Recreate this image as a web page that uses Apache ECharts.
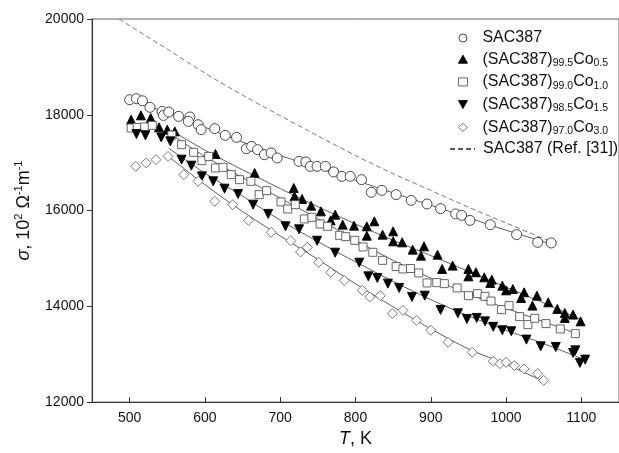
<!DOCTYPE html>
<html>
<head>
<meta charset="utf-8">
<script src="https://cdn.jsdelivr.net/npm/echarts@6/dist/echarts.min.js"></script>
<style>
  html, body { margin: 0; padding: 0; background: #fff; }
  #chart { width: 619px; height: 453px; }
</style>
</head>
<body>
<div id="chart"></div>
<script>
// Measured electrical conductivity, [T (K), sigma (10^2 Ohm^-1 m^-1)]
const sac387 = [[500,18315],[509,18336],[517,18292],[527,18155],[543,18071],[545,17987],[552,18058],[565,17967],[580,17954],[578,17862],[591,17793],[595,17689],[613,17710],[627,17570],[642,17528],[655,17292],[662,17340],[670,17271],[679,17167],[688,17203],[696,17098],[725,17027],[734,17015],[740,16923],[749,16923],[760,16923],[771,16806],[782,16714],[793,16714],[808,16645],[821,16380],[835,16422],[854,16332],[874,16213],[895,16138],[913,16040],[933,15929],[941,15900],[952,15795],[979,15706],[1014,15497],[1042,15336],[1060,15323]];
const co05 = [[502,17898],[515,17988],[528,17933],[539,17737],[550,17689],[560,17653],[614,17182],[666,16785],[718,16472],[719,16297],[729,16242],[741,16102],[754,15983],[767,15795],[773,15914],[783,15706],[798,15685],[815,15671],[825,15775],[815,15476],[836,15497],[850,15566],[850,15357],[862,15336],[876,15184],[891,15253],[887,15058],[909,15079],[915,14781],[929,14850],[950,14781],[950,14626],[960,14710],[971,14605],[981,14557],[979,14488],[995,14432],[1000,14334],[1009,14363],[1020,14175],[1024,14292],[1035,14015],[1041,14223],[1056,14084],[1068,13946],[1078,13862],[1078,13758],[1089,13827],[1099,13686]];
const co10 = [[502,17724],[510,17737],[520,17745],[530,17779],[556,17577],[569,17376],[585,17215],[596,17042],[605,17131],[614,16889],[624,16902],[635,16750],[646,16645],[661,16610],[672,16332],[682,16416],[701,16180],[710,16033],[720,16123],[732,15825],[742,15858],[753,15720],[763,15671],[779,15483],[787,15455],[799,15378],[810,15240],[823,15128],[836,14960],[854,14830],[863,14781],[873,14790],[884,14697],[895,14488],[908,14495],[918,14474],[935,14384],[950,14223],[962,14265],[972,14209],[980,14110],[994,13931],[1004,14015],[1018,13785],[1029,13618],[1038,13750],[1053,13639],[1072,13528],[1092,13430]];
const co15 = [[509,17599],[521,17570],[542,17528],[554,17445],[569,17063],[582,16937],[596,16714],[611,16610],[626,16457],[644,16346],[664,16123],[684,15930],[707,15671],[725,15608],[749,15370],[773,15120],[805,14912],[817,14626],[829,14593],[843,14474],[858,14384],[875,14196],[892,14223],[913,13925],[936,13855],[948,13737],[961,13758],[972,13686],[983,13572],[995,13500],[1007,13479],[1027,13305],[1046,13165],[1066,13152],[1089,13027],[1092,13081],[1098,12818],[1105,12887]];
const co30 = [[508,16923],[522,16994],[535,17063],[551,17131],[572,16750],[591,16610],[613,16192],[637,16123],[658,15795],[688,15545],[714,15371],[727,15136],[736,15232],[751,14919],[767,14710],[785,14540],[809,14334],[819,14196],[833,14223],[849,13848],[863,13916],[881,13708],[900,13500],[923,13249],[955,13040],[983,12852],[992,12804],[1000,12831],[1011,12762],[1024,12693],[1042,12595],[1050,12455]];

// Fitted curves through each data set
const fitSac = [[500,18330],[550,18040],[600,17740],[650,17430],[700,17150],[750,16890],[800,16630],[850,16370],[900,16110],[950,15850],[1000,15590],[1060,15300]];
const fit05 = [[555,17680],[600,17260],[650,16850],[700,16460],[750,16080],[800,15720],[850,15380],[900,15060],[950,14730],[1000,14400],[1050,14070],[1100,13720]];
const fit10 = [[555,17590],[600,17130],[650,16690],[700,16260],[750,15830],[800,15380],[850,14960],[900,14590],[950,14260],[1000,13960],[1050,13680],[1092,13440]];
const fit15 = [[552,17300],[600,16780],[650,16300],[700,15800],[750,15350],[800,14930],[850,14520],[900,14140],[950,13800],[1000,13500],[1050,13220],[1105,12880]];
const fit30 = [[550,17150],[600,16540],[650,15980],[700,15470],[750,14980],[800,14470],[850,13990],[900,13530],[950,13110],[1000,12790],[1050,12430]];

// Literature curve for SAC387
const refSac = [[486,20000],[500,19860],[550,19370],[600,18870],[650,18410],[700,17980],[750,17560],[800,17150],[850,16770],[900,16420],[950,16070],[1000,15740],[1060,15350]];

// Axis ticks
const xTicks = [500, 600, 700, 800, 900, 1000, 1100];

// Legend labels: plain name -> rich text with subscripts
const symbolNames = ['SAC387', '(SAC387)99.5Co0.5', '(SAC387)99.0Co1.0', '(SAC387)98.5Co1.5', '(SAC387)97.0Co3.0'];
const refName = 'SAC387 (Ref. [31])';
const legendRich = {
  'SAC387': '{n|SAC387}',
  '(SAC387)99.5Co0.5': '{n|(SAC387)}{s|99.5}{n|Co}{s|0.5}',
  '(SAC387)99.0Co1.0': '{n|(SAC387)}{s|99.0}{n|Co}{s|1.0}',
  '(SAC387)98.5Co1.5': '{n|(SAC387)}{s|98.5}{n|Co}{s|1.5}',
  '(SAC387)97.0Co3.0': '{n|(SAC387)}{s|97.0}{n|Co}{s|3.0}',
  'SAC387 (Ref. [31])': '{n|SAC387 (Ref. [31])}'
};

const FONT = '"Liberation Sans", Arial, sans-serif';

// Marker styles per series: [symbol, size, fill, stroke, rotate, legend icon]
const markerStyle = {
  'SAC387': ['circle', 10, '#fff', '#333', 0, 'circle'],
  '(SAC387)99.5Co0.5': ['triangle', 9, '#000', '#000', 0, 'triangle'],
  '(SAC387)99.0Co1.0': ['rect', 8, '#fff', '#555', 0, 'rect'],
  '(SAC387)98.5Co1.5': ['triangle', 9, '#000', '#000', 180, 'path://M0,0L10,0L5,9Z'],
  '(SAC387)97.0Co3.0': ['diamond', 10, '#fff', '#666', 0, 'diamond']
};

function scatter(name, data) {
  const [symbol, size, fill, stroke, rotate] = markerStyle[name];
  return {
    name, type: 'scatter', data, symbol, symbolSize: size, symbolRotate: rotate,
    itemStyle: { color: fill, borderColor: stroke, borderWidth: 0.9, opacity: 1 },
    z: 3, silent: true
  };
}
function fit(data) {
  return {
    type: 'line', data, smooth: 0.3, symbol: 'none', silent: true, z: 2,
    lineStyle: { color: '#333', width: 0.8 }
  };
}

const legendRichStyles = {
  n: { fontSize: 16, fontFamily: FONT, color: '#111', lineHeight: 16 },
  s: { fontSize: 10.5, fontFamily: FONT, color: '#111', lineHeight: 10, padding: [8, 0, 0, 0] }
};

const chart = echarts.init(document.getElementById('chart'), null, { renderer: 'canvas' });
chart.setOption({
  animation: false,
  backgroundColor: '#fff',
  textStyle: { fontFamily: FONT },
  grid: { left: 92, top: 19, right: -7, bottom: 50, show: true, borderColor: '#666', borderWidth: 1 },
  legend: [
    {
      data: symbolNames.map(n => {
        const [symbol, size, fill, stroke, rotate, icon] = markerStyle[n];
        return { name: n, icon, itemStyle: { color: fill, borderColor: stroke, borderWidth: 0.9 } };
      }),
      orient: 'vertical', left: 453, top: 25,
      itemWidth: 9, itemHeight: 8, itemGap: 3.7,
      selectedMode: false,
      formatter: n => legendRich[n],
      textStyle: { padding: [0, 0, 0, 10], rich: legendRichStyles }
    },
    {
      data: [{ name: refName, icon: 'inherit', itemStyle: { color: 'rgba(0,0,0,0)', borderWidth: 0, opacity: 0 } }],
      orient: 'vertical', left: 444, top: 136,
      itemWidth: 25, itemHeight: 8,
      selectedMode: false,
      formatter: n => legendRich[n],
      textStyle: { padding: [0, 0, 0, 3], rich: legendRichStyles }
    }
  ],
  xAxis: {
    type: 'value', min: 450, max: 1150,
    axisLine: { show: true, lineStyle: { color: '#333', width: 1 } },
    axisTick: { show: true, inside: true, length: 5, customValues: xTicks, lineStyle: { color: '#333' } },
    axisLabel: { customValues: xTicks, fontSize: 14, color: '#111', margin: 9, fontFamily: FONT, formatter: v => String(v) },
    splitLine: { show: false },
    name: '{i|T}{n|, K}', nameLocation: 'middle', nameGap: 27,
    nameTextStyle: {
      rich: {
        i: { fontSize: 18, fontStyle: 'italic', fontFamily: FONT, color: '#111' },
        n: { fontSize: 18, fontFamily: FONT, color: '#111' }
      }
    }
  },
  yAxis: {
    type: 'value', min: 12000, max: 20000, interval: 2000,
    axisLine: { show: true, lineStyle: { color: '#333', width: 1 } },
    axisTick: { show: true, inside: false, length: 5, lineStyle: { color: '#333' } },
    axisLabel: { fontSize: 14, color: '#111', margin: 8, fontFamily: FONT, formatter: v => String(v) },
    splitLine: { show: false },
    name: '{i|σ}{n|, 10}{p|2}{n| Ω}{p|-1}{n|m}{p|-1}',
    nameLocation: 'middle', nameRotate: 90, nameGap: 54,
    nameTextStyle: {
      rich: {
        i: { fontSize: 18, fontStyle: 'italic', fontFamily: FONT, color: '#111', lineHeight: 20 },
        n: { fontSize: 18, fontFamily: FONT, color: '#111', lineHeight: 20 },
        p: { fontSize: 11, fontFamily: FONT, color: '#111', lineHeight: 11, padding: [0, 0, 10, 0] }
      }
    }
  },
  series: [
    fit(fitSac), fit(fit05), fit(fit10), fit(fit15), fit(fit30),
    scatter('SAC387', sac387),
    scatter('(SAC387)99.5Co0.5', co05),
    scatter('(SAC387)99.0Co1.0', co10),
    scatter('(SAC387)98.5Co1.5', co15),
    scatter('(SAC387)97.0Co3.0', co30),
    {
      name: refName, type: 'line', data: refSac, smooth: 0.3,
      symbol: 'none', silent: true, z: 2,
      itemStyle: { color: '#555' },
      lineStyle: { color: '#555', width: 0.8, type: [5, 3] }
    }
  ]
});
</script>
</body>
</html>
